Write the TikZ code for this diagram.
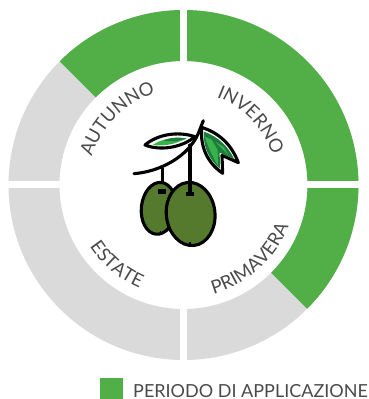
\documentclass[tikz,border=0pt]{standalone}
\usepackage{fontspec}
\setmainfont{Lato}
\usetikzlibrary{decorations.text}
\definecolor{ringgreen}{HTML}{52AE47}
\definecolor{ringgray}{HTML}{DADADA}
\definecolor{txt}{HTML}{4A4A4A}
\definecolor{olive}{HTML}{557A2E}
\definecolor{leafA}{HTML}{37B34A}
\definecolor{leafB}{HTML}{1E7B3E}
\newcommand{\arclabel}[4]{% start, end, radius, text
  \path[postaction={decorate,decoration={text along path,text align=center,
    text={|\fontsize{18.5}{19}\selectfont\color{txt}|#4}}}]
    (#1:#3pt) arc (#1:#2:#3pt);}
\tikzset{
  greenseg/.style={fill=ringgreen},
  gap/.style={draw=white,line width=6.5pt},
  ink/.style={draw=black,line width=3.1pt,line join=round},
  stem/.style={draw=black,line width=3.1pt,line cap=round},
}
\begin{document}
\begin{tikzpicture}
\useasboundingbox (-183.5pt,185pt) rectangle (184.5pt,-214pt);
% ring
\fill[ringgray,even odd rule] (0,0) circle (175pt) (0,0) circle (124pt);
\fill[greenseg] (90:175pt) arc (90:-45:175pt) -- (-45:124pt) arc (-45:90:124pt) -- cycle;
\fill[greenseg] (90:175pt) arc (90:135:175pt) -- (135:124pt) arc (135:90:124pt) -- cycle;
\draw[gap] (0,-177pt) -- (0,177pt);
\draw[gap] (-177pt,0.5pt) -- (177pt,0.5pt);
% season labels
\arclabel{175}{95}{96}{AUTUNNO}
\arclabel{84}{4}{94}{INVERNO}
\arclabel{195}{265}{112}{ESTATE}
\arclabel{-93}{-3}{113}{PRIMAVERA}
% olive icon
\begin{scope}[shift={(-63.5pt,85pt)},x=.3333pt,y=-.3333pt]
  \draw[stem] (127,205) -- (127,275);
  \draw[ink,fill=olive] (116,325) [rotate around={-6:(116,325)}] ellipse [x radius=52pt/3,y radius=78pt/3];
  \draw[stem,line cap=butt,line width=4.5pt] (115,274) -- (139,274);
  \draw[stem,line cap=butt,line width=1.5pt] (122,392) -- (122,400);
  \draw[ink,fill=olive] (212,342) [rotate around={6:(212,342)}] ellipse [x radius=73pt/3,y radius=95pt/3];
  \draw[stem] (210,135) -- (210,280);
  \draw[stem,line cap=butt,line width=4.5pt] (198,282) -- (223,282);
  \draw[stem,line cap=butt,line width=1.5pt] (210,426) -- (210,434);
  \draw[stem] (42,221) .. controls (120,215) and (205,170) .. (235,100) -- (250,62);
  % leaf 1
  \draw[ink,fill=white] (75,135) .. controls (110,105) and (170,92) .. (225,110)
     .. controls (190,140) and (125,155) .. (75,135) -- cycle;
  \fill[leafA] (98,135) .. controls (125,116) and (165,110) .. (200,116) -- (170,128) .. controls (145,136) and (120,138) .. (98,135) -- cycle;
  \fill[leafB] (130,122) .. controls (150,113) and (175,110) .. (200,116) -- (165,124) -- cycle;
  % leaf 2
  \draw[ink,fill=white] (245,82) .. controls (300,100) and (335,135) .. (355,188)
     -- (306,166) -- (308,220) .. controls (265,190) and (240,145) .. (245,82) -- cycle;
  \fill[leafB] (252,95) .. controls (295,110) and (325,140) .. (343,178) -- (299,158) -- (300,206) .. controls (268,180) and (248,140) .. (252,95) -- cycle;
  \fill[leafA] (254,110) .. controls (266,145) and (280,175) .. (294,196) -- (293,150) -- (274,118) -- cycle;
  \fill[leafA] (285,125) -- (326,166) -- (310,140) -- cycle;
\end{scope}
% legend
\fill[greenseg] (-83.5pt,-193pt) rectangle (-60.5pt,-214pt);
\node[anchor=base west,inner sep=0pt,text=txt,font=\fontsize{18}{18}\selectfont] (legend) at (-50.5pt,-212pt) {PERIODO DI APPLICAZIONE};
\end{tikzpicture}
\end{document}
